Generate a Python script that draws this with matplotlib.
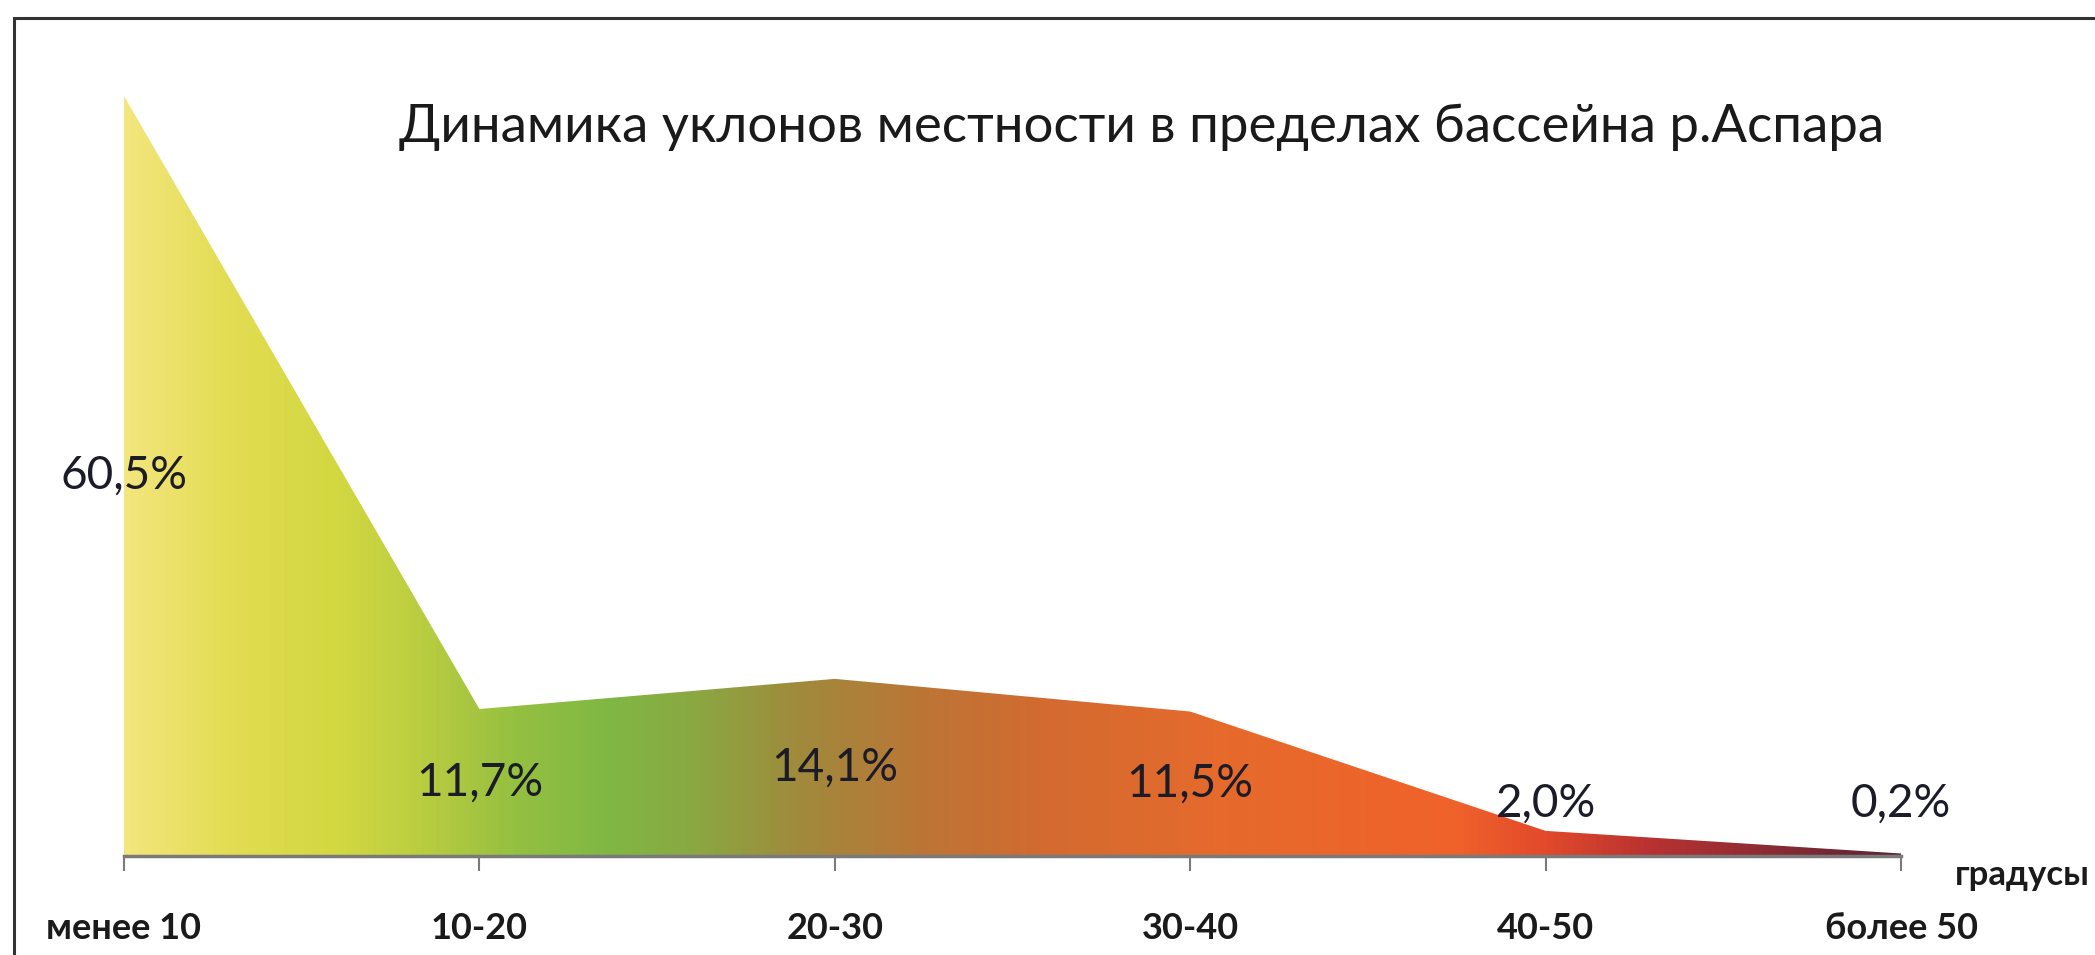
import numpy as np
import matplotlib
matplotlib.use("Agg")
import matplotlib.pyplot as plt
from matplotlib.colors import LinearSegmentedColormap
from matplotlib.patches import Rectangle

categories = ["менее 10", "10-20", "20-30", "30-40", "40-50", "более 50"]
shares = [60.5, 11.7, 14.1, 11.5, 2.0, 0.2]
labels = ["60,5%", "11,7%", "14,1%", "11,5%", "2,0%", "0,2%"]

title = "Динамика уклонов местности в пределах бассейна р.Аспара"
axis_name = "градусы"

# horizontal gradient, left to right
grad_stops = [
    (0.00, "#f3e67c"), (0.06, "#e2dc52"), (0.12, "#d2d840"), (0.17, "#b8cc40"),
    (0.22, "#94c040"), (0.27, "#80b844"), (0.32, "#8aa842"), (0.38, "#a08a3c"),
    (0.45, "#bc7536"), (0.52, "#d46a30"), (0.62, "#e66a2c"), (0.75, "#f0622a"),
    (0.80, "#e24a2a"), (0.86, "#b83232"), (1.00, "#5a2535"),
]
cmap = LinearSegmentedColormap.from_list("slope", grad_stops)

fig = plt.figure(figsize=(20.95, 9.55), dpi=100)
ax = fig.add_axes([124 / 2095, 1 - 856 / 955, (1901 - 124) / 2095, 760 / 955])

x = np.arange(len(categories))
ymax = 60.5
ax.set_xlim(0, len(categories) - 1)
ax.set_ylim(0, ymax)

poly = ax.fill_between(x, shares, 0, facecolor="none", edgecolor="none")
grad = np.linspace(0, 1, 512).reshape(1, -1)
img = ax.imshow(grad, cmap=cmap, aspect="auto", extent=(0, len(categories) - 1, 0, ymax),
                origin="lower", zorder=1)
img.set_clip_path(poly.get_paths()[0], transform=ax.transData)

# data labels
for xi, v, lab in zip(x, shares, labels):
    ypos = v / 2 if v > 5 else 4.2
    ax.text(xi, ypos, lab, ha="center", va="center", fontsize=33,
            family=["Lato", "DejaVu Sans"], color="#1c1c28", zorder=3)

for s in ["top", "right", "left"]:
    ax.spines[s].set_visible(False)
ax.spines["bottom"].set_color("#7a7a7a")
ax.spines["bottom"].set_linewidth(2.5)
ax.set_yticks([])
ax.set_xticks(x)
ax.set_xticklabels(categories, fontsize=26, fontweight="bold",
                   family=["Lato", "DejaVu Sans"], color="#1a1a1a")
ax.tick_params(axis="x", direction="out", length=11, width=1.5, color="#7a7a7a", pad=29)

fig.text(2090 / 2095, 1 - 875 / 955, axis_name, ha="right", va="center", fontsize=25,
         fontweight="bold", family=["Lato", "DejaVu Sans"], color="#1a1a1a")

fig.text(1142 / 2095, 1 - 127 / 955, title, ha="center", va="center", fontsize=38,
         family=["Lato", "DejaVu Sans"], color="#1a1a1a")

# outer frame, partly cut by the picture edge
fig.patches.append(Rectangle((14 / 2095, -0.1), 1.2, 1 - 18 / 955 + 0.1, transform=fig.transFigure,
                             fill=False, edgecolor="#333333", linewidth=2.2))

plt.savefig("out.png", dpi=100)
